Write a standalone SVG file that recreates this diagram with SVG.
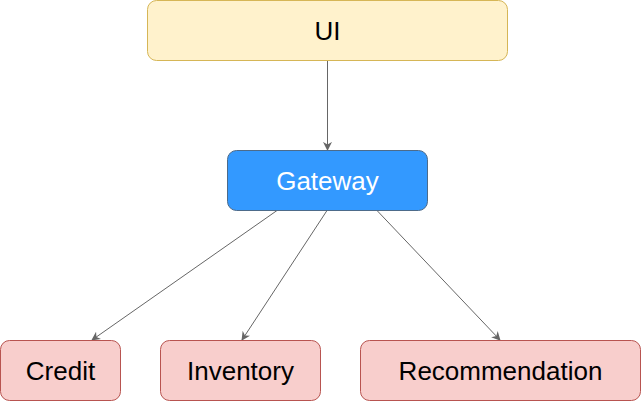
<svg xmlns="http://www.w3.org/2000/svg" width="641" height="401" viewBox="0 0 641 401">
<defs>
<style>
.lbl{font-family:"Liberation Sans",Arial,sans-serif;font-size:26px;text-anchor:middle}
.edge{stroke:#666666;stroke-width:1;fill:none}
.red{fill:#f8cecc;stroke:#b85450}
</style>
<marker id="arr" viewBox="0 0 10 10" refX="9" refY="5" markerWidth="9" markerHeight="9" orient="auto" markerUnits="userSpaceOnUse">
<path d="M0,0 L10,5 L0,10 L3,5 Z" fill="#666666"/>
</marker>
</defs>
<rect width="641" height="401" fill="#ffffff"/>
<g id="connectors">
<line class="edge" x1="327.5" y1="60.5" x2="327.5" y2="150" marker-end="url(#arr)"/>
<line class="edge" x1="277" y1="210.5" x2="92" y2="340" marker-end="url(#arr)"/>
<line class="edge" x1="327" y1="210.5" x2="242" y2="340" marker-end="url(#arr)"/>
<line class="edge" x1="377" y1="210.5" x2="500" y2="340" marker-end="url(#arr)"/>
</g>
<g id="ui">
<rect x="147.5" y="0.5" width="360" height="60" rx="9" fill="#fff2cc" stroke="#d6b656"/>
<text class="lbl" x="327.5" y="40" fill="#000000">UI</text>
</g>
<g id="gateway">
<rect x="227.5" y="150.5" width="200" height="60" rx="9" fill="#3399ff" stroke="#4d6b8a"/>
<text class="lbl" x="327.5" y="190" fill="#ffffff">Gateway</text>
</g>
<g id="credit">
<rect class="red" x="0.5" y="340.5" width="120" height="60" rx="9"/>
<text class="lbl" x="60.5" y="380" fill="#000000">Credit</text>
</g>
<g id="inventory">
<rect class="red" x="160.5" y="340.5" width="160" height="60" rx="9"/>
<text class="lbl" x="240.5" y="380" fill="#000000">Inventory</text>
</g>
<g id="recommendation">
<rect class="red" x="360.5" y="340.5" width="280" height="60" rx="9"/>
<text class="lbl" x="500.5" y="380" fill="#000000">Recommendation</text>
</g>
</svg>
